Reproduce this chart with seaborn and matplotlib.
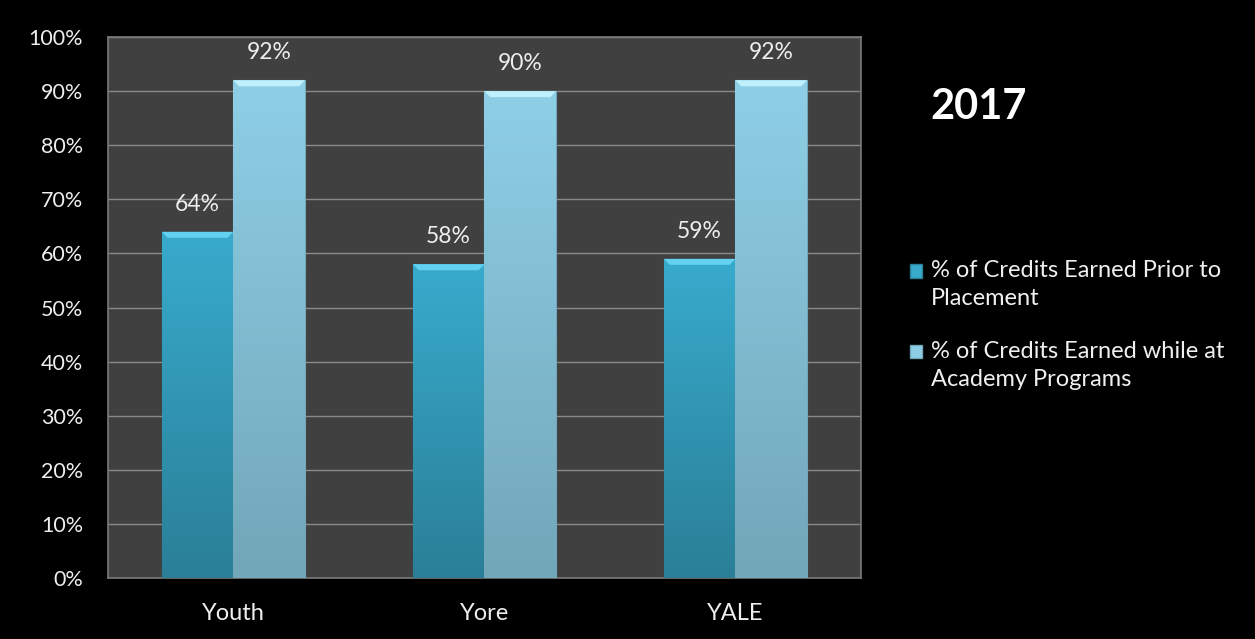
import numpy as np
import pandas as pd
import matplotlib
matplotlib.use("Agg")
import matplotlib.pyplot as plt
from matplotlib.patches import Patch, Polygon, Rectangle
from matplotlib.legend_handler import HandlerPatch
from matplotlib.colors import LinearSegmentedColormap
import seaborn as sns

# Program sites and the two credit series (percent)
programs = ["Youth", "Yore", "YALE"]
series_names = [
    "% of Credits Earned Prior to\nPlacement",
    "% of Credits Earned while at\nAcademy Programs",
]
prior_pct = [64, 58, 59]
academy_pct = [92, 90, 92]
y_ticks = [0, 10, 20, 30, 40, 50, 60, 70, 80, 90, 100]
year_label = "2017"

df = pd.DataFrame({
    "program": programs * 2,
    "series": [series_names[0]] * 3 + [series_names[1]] * 3,
    "pct": prior_pct + academy_pct,
})

sns.set_theme(style="dark")
plt.rcParams["font.family"] = ["Lato", "DejaVu Sans"]

fig = plt.figure(figsize=(12.55, 6.39), dpi=100, facecolor="black")
ax = fig.add_axes([0.086, 0.0955, 0.6, 0.8465])
ax.set_facecolor("#404040")

top_colors = ["#38abcd", "#8ecfe7"]
bot_colors = ["#2a7f97", "#72a6b9"]
bevel_colors = ["#62d2f0", "#bff0fb"]

sns.barplot(data=df, x="program", y="pct", hue="series", order=programs,
            hue_order=series_names, palette=top_colors, width=0.57,
            saturation=1, errorbar=None, ax=ax, zorder=3, legend=False)

ax.set_ylim(0, 100)
ax.set_yticks(y_ticks)
ax.set_yticklabels([f"{t}%" for t in y_ticks])
ax.grid(axis="y", color="#8a8a8a", linewidth=1.0, zorder=1)
ax.grid(axis="x", visible=False)
ax.set_axisbelow(True)
for s in ax.spines.values():
    s.set_visible(True)
    s.set_color("#7a7a7a")
    s.set_linewidth(1.2)
ax.tick_params(axis="y", length=0, colors="#eeeeee", labelsize=15.5, pad=18)
ax.tick_params(axis="x", length=0, colors="#eeeeee", labelsize=17, pad=18)
ax.set_xlabel("")
ax.set_ylabel("")

# Vertical gradient fill and bevelled top for every bar
bars = [p for p in ax.patches if p.get_height() > 0]
grad = np.linspace(0, 1, 256).reshape(-1, 1)
for i, bar in enumerate(bars):
    k = 0 if i < len(programs) else 1
    cmap = LinearSegmentedColormap.from_list(f"g{i}", [bot_colors[k], top_colors[k]])
    x0, w, h = bar.get_x(), bar.get_width(), bar.get_height()
    im = ax.imshow(grad, cmap=cmap, aspect="auto", origin="lower",
                   extent=[x0, x0 + w, 0, h], zorder=3.5)
    im.set_clip_path(bar)
    bar.set_edgecolor(bot_colors[k])
    bar.set_linewidth(0.8)
    inset = w * 0.08
    bevel = Polygon([[x0, h], [x0 + w, h], [x0 + w - inset, h - 1.1],
                     [x0 + inset, h - 1.1]], closed=True,
                    facecolor=bevel_colors[k], edgecolor="none", zorder=4)
    ax.add_patch(bevel)
    ax.annotate(f"{h:.0f}%", (x0 + w / 2, h), xytext=(0, 20),
                textcoords="offset points", ha="center", va="center",
                color="#eeeeee", fontsize=16.5, zorder=5)

ax.set_xlim(-0.5, 2.5)


def first_line_square(legend, orig_handle, xdescent, ydescent, width, height,
                      fontsize):
    # keep the swatch level with the first line of a two-line label
    return Rectangle((-xdescent, -ydescent + 10), width, height)


handles = [Patch(facecolor=top_colors[k], edgecolor=bot_colors[k])
           for k in range(2)]
leg = fig.legend(handles, series_names, loc="upper left",
                 bbox_to_anchor=(0.708, 0.626), frameon=False,
                 fontsize=17, labelcolor="#f0f0f0", handlelength=0.5,
                 handleheight=0.5, handletextpad=0.4, labelspacing=1.35,
                 handler_map={Patch: HandlerPatch(patch_func=first_line_square)})
for t in leg.get_texts():
    t.set_linespacing(1.4)

fig.text(0.741, 0.833, year_label, color="white", fontsize=30,
         fontweight="bold", ha="left", va="center")

fig.savefig("out.png", dpi=100, facecolor="black")
